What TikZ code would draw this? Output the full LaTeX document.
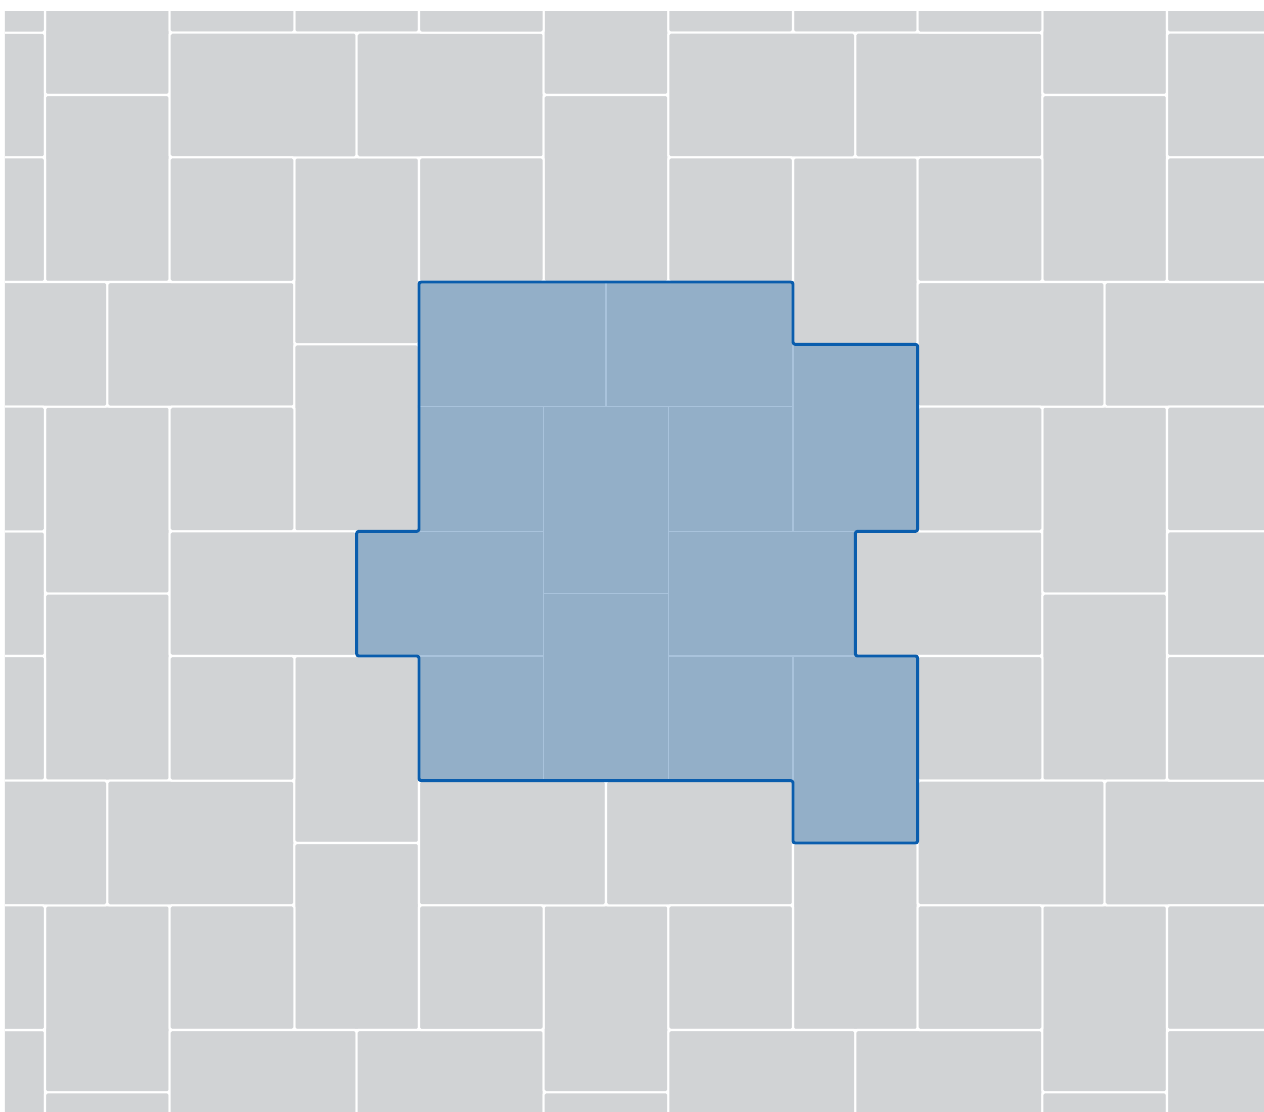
\documentclass[tikz,border=0pt]{standalone}
\usetikzlibrary{calc}
\definecolor{tilegray}{HTML}{D1D3D5}
\definecolor{bluefill}{HTML}{93AFC8}
\definecolor{bluesep}{HTML}{A9C3DC}
\definecolor{blueline}{HTML}{0A5DAD}
\tikzset{
  tilebox/.style={fill=tilegray, draw=white, line width=0.95pt, rounded corners=0.9pt},
  bluebox/.style={fill=bluefill, draw=bluesep, line width=0.7pt},
  outlinebox/.style={draw=blueline, line width=1.35pt, rounded corners=1pt, line join=round}
}
\begin{document}
\begin{tikzpicture}[x=1cm, y=-1cm]
\useasboundingbox (-6.722,-4.524) rectangle (13.556,13.300);
\fill[white] (-6.722,-4.524) rectangle (13.556,13.300);
\begin{scope}
\clip (-6.642,-4.332) rectangle (13.556,13.300);
\fill[white] (-6.642,-4.332) rectangle (13.556,13.300);
\foreach \a in {-4,...,4}{
  \foreach \b in {-4,...,4}{
    \pgfmathsetmacro\ox{4*(\a+\b)}
    \pgfmathsetmacro\oy{4*(\a-\b)}
    \begin{scope}[shift={(\ox,\oy)}]
      \draw[tilebox] (0,0) rectangle (3,2);
      \draw[tilebox] (3,0) rectangle (6,2);
      \draw[tilebox] (6,-2) rectangle (8,1);
      \draw[tilebox] (6,1) rectangle (8,4);
      \draw[tilebox] (0,2) rectangle (2,4);
      \draw[tilebox] (4,2) rectangle (6,4);
    \end{scope}
  }
}
\end{scope}
% highlighted tiles
\draw[bluebox] (0,0) rectangle (3,2);
\draw[bluebox] (3,0) rectangle (6,2);
\draw[bluebox] (6,1) rectangle (8,4);
\draw[bluebox] (0,2) rectangle (2,4);
\draw[bluebox] (2,2) rectangle (4,5);
\draw[bluebox] (4,2) rectangle (6,4);
\draw[bluebox] (-1,4) rectangle (2,6);
\draw[bluebox] (4,4) rectangle (7,6);
\draw[bluebox] (2,5) rectangle (4,8);
\draw[bluebox] (0,6) rectangle (2,8);
\draw[bluebox] (4,6) rectangle (6,8);
\draw[bluebox] (6,6) rectangle (8,9);
% outline
\draw[outlinebox] (0,0) -- (6,0) -- (6,1) -- (8,1) -- (8,4) -- (7,4) -- (7,6) -- (8,6) -- (8,9) -- (6,9) -- (6,8) -- (0,8) -- (0,6) -- (-1,6) -- (-1,4) -- (0,4) -- cycle;
\end{tikzpicture}
\end{document}
